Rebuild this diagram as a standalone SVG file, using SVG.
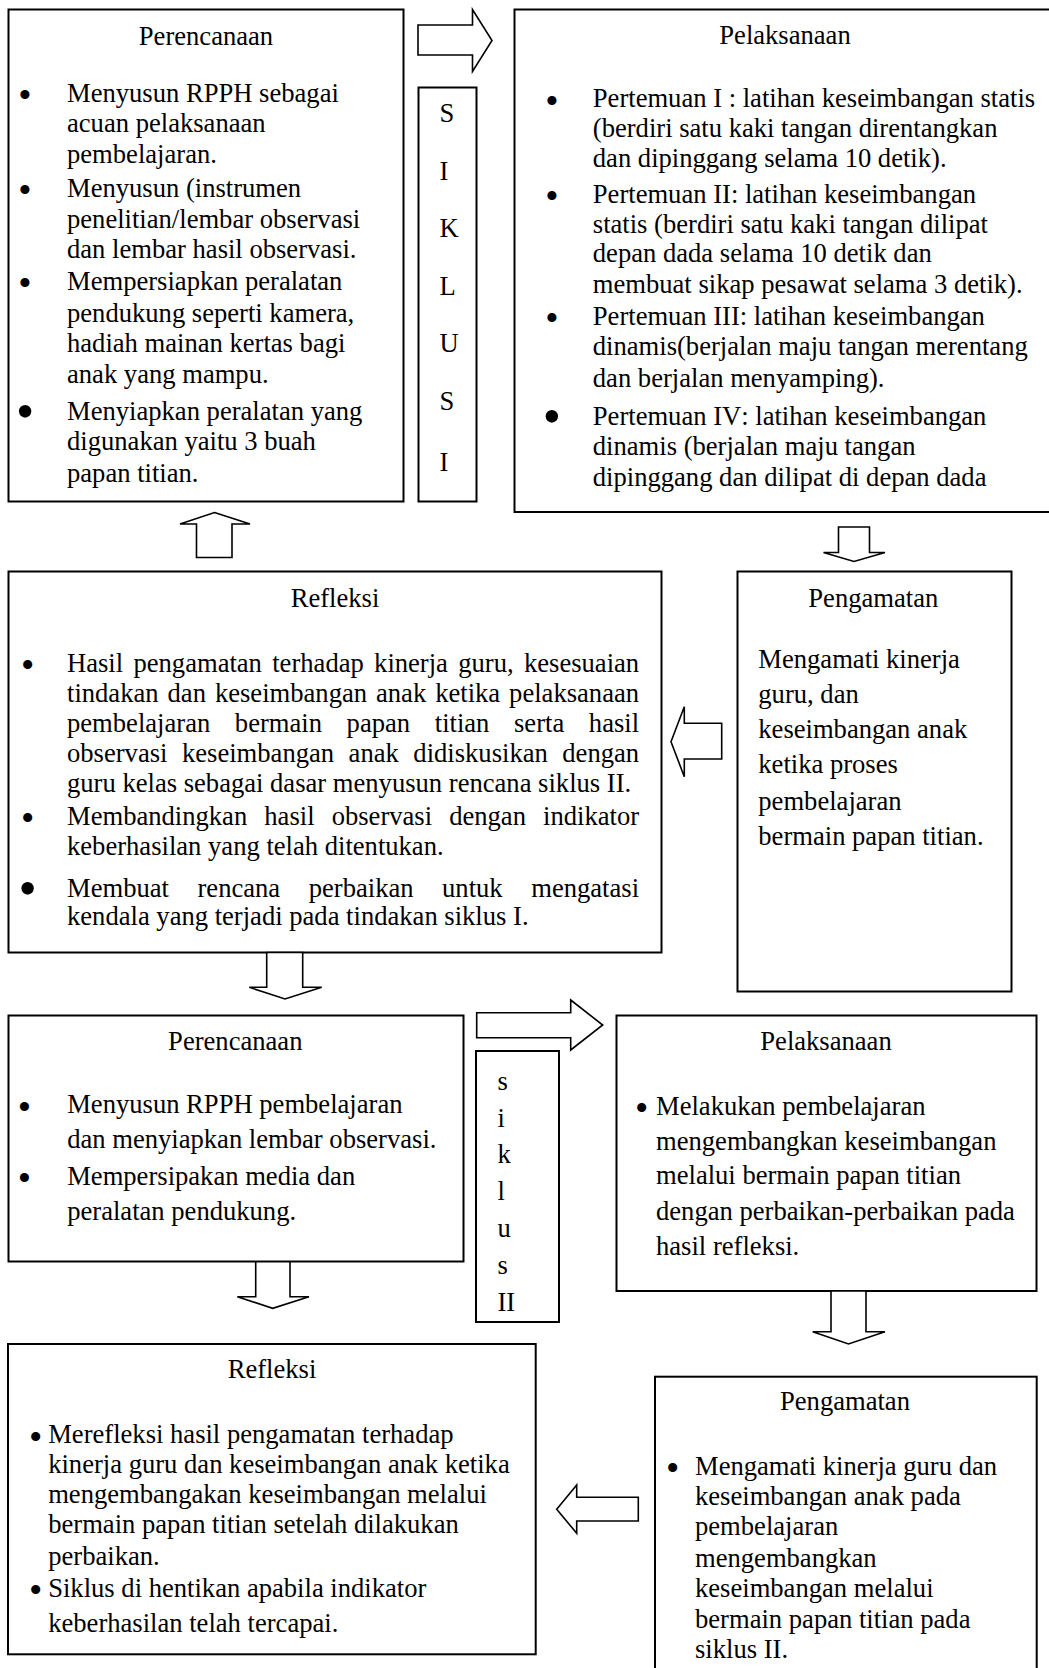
<svg xmlns="http://www.w3.org/2000/svg" width="1049" height="1668" viewBox="0 0 1049 1668">
<style>
.box{fill:#fff;stroke:#000;stroke-width:2}
.arr{fill:#fff;stroke:#000;stroke-width:1.6;stroke-linejoin:miter}
text{font-family:"Liberation Serif","Times New Roman",serif;font-size:26.6px;fill:#000;font-kerning:none}
.c{text-anchor:middle}
text.b{text-anchor:middle;font-size:38px}
text.bl{text-anchor:middle;font-size:52px}
</style>
<rect x="0" y="0" width="1049" height="1668" fill="#fff"/>
<g id="perencanaan1">
<rect class="box" x="8.5" y="9.5" width="395" height="492"/>
<text class="c" x="206" y="45">Perencanaan</text>
<text class="b" x="25" y="108">•</text>
<text x="67" y="101.7">Menyusun RPPH sebagai</text>
<text x="67" y="131.7">acuan pelaksanaan</text>
<text x="67" y="163.3">pembelajaran.</text>
<text class="b" x="25" y="203">•</text>
<text x="67" y="196.7">Menyusun (instrumen</text>
<text x="67" y="228.3">penelitian/lembar observasi</text>
<text x="67" y="258.3">dan lembar hasil observasi.</text>
<text class="b" x="25" y="296.3">•</text>
<text x="67" y="290">Mempersiapkan peralatan</text>
<text x="67" y="321.7">pendukung seperti kamera,</text>
<text x="67" y="351.7">hadiah mainan kertas bagi</text>
<text x="67" y="383.3">anak yang mampu.</text>
<text class="bl" x="25" y="429.2">•</text>
<text x="67" y="420">Menyiapkan peralatan yang</text>
<text x="67" y="450">digunakan yaitu 3 buah</text>
<text x="67" y="481.7">papan titian.</text>
</g>
<g id="siklus1">
<rect class="box" x="418.5" y="87.5" width="58" height="414"/>
<text x="439.5" y="121.7">S</text>
<text x="439.5" y="180">I</text>
<text x="439.5" y="236.7">K</text>
<text x="439.5" y="295">L</text>
<text x="439.5" y="351.7">U</text>
<text x="439.5" y="410">S</text>
<text x="439.5" y="470.5">I</text>
</g>
<g id="pelaksanaan1">
<rect class="box" x="514.5" y="9.5" width="540" height="502.5"/>
<text class="c" x="785" y="44">Pelaksanaan</text>
<text class="b" x="551.8" y="113.6">•</text>
<text x="592.8" y="107.3">Pertemuan I : latihan keseimbangan statis</text>
<text x="592.8" y="137.3">(berdiri satu kaki tangan direntangkan</text>
<text x="592.8" y="166.7">dan dipinggang selama 10 detik).</text>
<text class="b" x="551.8" y="209">•</text>
<text x="592.8" y="202.7">Pertemuan II: latihan keseimbangan</text>
<text x="592.8" y="232.7">statis (berdiri satu kaki tangan dilipat</text>
<text x="592.8" y="261.7">depan dada selama 10 detik dan</text>
<text x="592.8" y="292.7">membuat sikap pesawat selama 3 detik).</text>
<text class="b" x="551.8" y="331.3">•</text>
<text x="592.8" y="325">Pertemuan III: latihan keseimbangan</text>
<text x="592.8" y="355">dinamis(berjalan maju tangan merentang</text>
<text x="592.8" y="386.7">dan berjalan menyamping).</text>
<text class="bl" x="551.8" y="434.2">•</text>
<text x="592.8" y="425">Pertemuan IV: latihan keseimbangan</text>
<text x="592.8" y="455">dinamis (berjalan maju tangan</text>
<text x="592.8" y="486">dipinggang dan dilipat di depan dada</text>
</g>
<g id="refleksi1">
<rect class="box" x="8.5" y="571.5" width="653" height="381"/>
<text class="c" x="335" y="606.7">Refleksi</text>
<text class="b" x="27.7" y="678">•</text>
<text x="67" y="671.7" word-spacing="3.66">Hasil pengamatan terhadap kinerja guru, kesesuaian</text>
<text x="67" y="701.7" word-spacing="2.32">tindakan dan keseimbangan anak ketika pelaksanaan</text>
<text x="67" y="731.7" word-spacing="17.98">pembelajaran bermain papan titian serta hasil</text>
<text x="67" y="761.7" word-spacing="7.88">observasi keseimbangan anak didiskusikan dengan</text>
<text x="67" y="791.7">guru kelas sebagai dasar menyusun rencana siklus II.</text>
<text class="b" x="27.7" y="831.3">•</text>
<text x="67" y="825" word-spacing="10.45">Membandingkan hasil observasi dengan indikator</text>
<text x="67" y="855">keberhasilan yang telah ditentukan.</text>
<text class="bl" x="27.7" y="905.9">•</text>
<text x="67" y="896.7" word-spacing="21.9">Membuat rencana perbaikan untuk mengatasi</text>
<text x="67" y="925">kendala yang terjadi pada tindakan siklus I.</text>
</g>
<g id="pengamatan1">
<rect class="box" x="737.5" y="571.5" width="274" height="420"/>
<text class="c" x="873.3" y="606.7">Pengamatan</text>
<text x="758.3" y="668.3">Mengamati kinerja</text>
<text x="758.3" y="703.3">guru, dan</text>
<text x="758.3" y="738.3">keseimbangan anak</text>
<text x="758.3" y="773.3">ketika proses</text>
<text x="758.3" y="810">pembelajaran</text>
<text x="758.3" y="845">bermain papan titian.</text>
</g>
<g id="perencanaan2">
<rect class="box" x="8.5" y="1015.5" width="455" height="246"/>
<text class="c" x="235.3" y="1050">Perencanaan</text>
<text class="b" x="24.5" y="1119.6">•</text>
<text x="67.2" y="1113.3">Menyusun RPPH pembelajaran</text>
<text x="67.2" y="1148.3">dan menyiapkan lembar observasi.</text>
<text class="b" x="24.5" y="1191.3">•</text>
<text x="67.2" y="1185">Mempersipakan media dan</text>
<text x="67.2" y="1220">peralatan pendukung.</text>
</g>
<g id="siklus2">
<rect class="box" x="476" y="1051" width="83" height="271"/>
<text x="497.5" y="1090">s</text>
<text x="497.5" y="1126.7">i</text>
<text x="497.5" y="1163.3">k</text>
<text x="497.5" y="1200">l</text>
<text x="497.5" y="1236.7">u</text>
<text x="497.5" y="1274">s</text>
<text x="497.5" y="1311">II</text>
</g>
<g id="pelaksanaan2">
<rect class="box" x="616.5" y="1015.5" width="420" height="275.5"/>
<text class="c" x="826" y="1050">Pelaksanaan</text>
<text class="b" x="641.7" y="1121.3">•</text>
<text x="656" y="1115">Melakukan pembelajaran</text>
<text x="656" y="1150">mengembangkan keseimbangan</text>
<text x="656" y="1184">melalui bermain papan titian</text>
<text x="656" y="1220">dengan perbaikan-perbaikan pada</text>
<text x="656" y="1255">hasil refleksi.</text>
</g>
<g id="refleksi2">
<rect class="box" x="8" y="1344" width="527.7" height="310.3"/>
<text class="c" x="272" y="1378.3">Refleksi</text>
<text class="b" x="35.7" y="1449.6">•</text>
<text x="48.2" y="1443.3">Merefleksi hasil pengamatan terhadap</text>
<text x="48.2" y="1473.3">kinerja guru dan keseimbangan anak ketika</text>
<text x="48.2" y="1503.3">mengembangakan keseimbangan melalui</text>
<text x="48.2" y="1533.3">bermain papan titian setelah dilakukan</text>
<text x="48.2" y="1565">perbaikan.</text>
<text class="b" x="35.7" y="1603">•</text>
<text x="48.2" y="1596.7">Siklus di hentikan apabila indikator</text>
<text x="48.2" y="1631.7">keberhasilan telah tercapai.</text>
</g>
<g id="pengamatan2">
<rect class="box" x="655" y="1376.7" width="381.7" height="320"/>
<text class="c" x="845" y="1410">Pengamatan</text>
<text class="b" x="672.7" y="1481.3">•</text>
<text x="695" y="1475">Mengamati kinerja guru dan</text>
<text x="695" y="1505">keseimbangan anak pada</text>
<text x="695" y="1535">pembelajaran</text>
<text x="695" y="1566.7">mengembangkan</text>
<text x="695" y="1596.7">keseimbangan melalui</text>
<text x="695" y="1628.3">bermain papan titian pada</text>
<text x="695" y="1658.3">siklus II.</text>
</g>
<g id="connectors">
<polygon class="arr" points="418,25 472.5,25 472.5,9.5 492,40.5 472.5,71.5 472.5,55 418,55"/>
<polygon class="arr" points="214.5,512.5 250,524 232,524 232,557.5 196.5,557.5 196.5,524 180,524"/>
<polygon class="arr" points="838.5,527 869.5,527 869.5,552.5 885,552.5 854,561.5 823.5,552.5 838.5,552.5"/>
<polygon class="arr" points="671,741.7 684.3,706.7 684.3,723.3 721.7,723.3 721.7,759 684.3,759 684.3,776.7"/>
<polygon class="arr" points="266.7,952.5 302.7,952.5 302.7,987.3 321.7,987.3 285,999 249.3,987.3 266.7,987.3"/>
<polygon class="arr" points="476.7,1012.7 570.7,1012.7 570.7,1000 602.7,1025 570.7,1050 570.7,1037.7 476.7,1037.7"/>
<polygon class="arr" points="255.7,1261.7 290,1261.7 290,1296.7 309,1296.7 272.7,1308.3 237.3,1296.7 255.7,1296.7"/>
<polygon class="arr" points="831,1291 866,1291 866,1331.7 885,1331.7 848.5,1344 812.7,1331.7 831,1331.7"/>
<polygon class="arr" points="556.7,1509.2 576.7,1485 576.7,1497.3 638.3,1497.3 638.3,1521 576.7,1521 576.7,1533.3"/>
</g>
</svg>
